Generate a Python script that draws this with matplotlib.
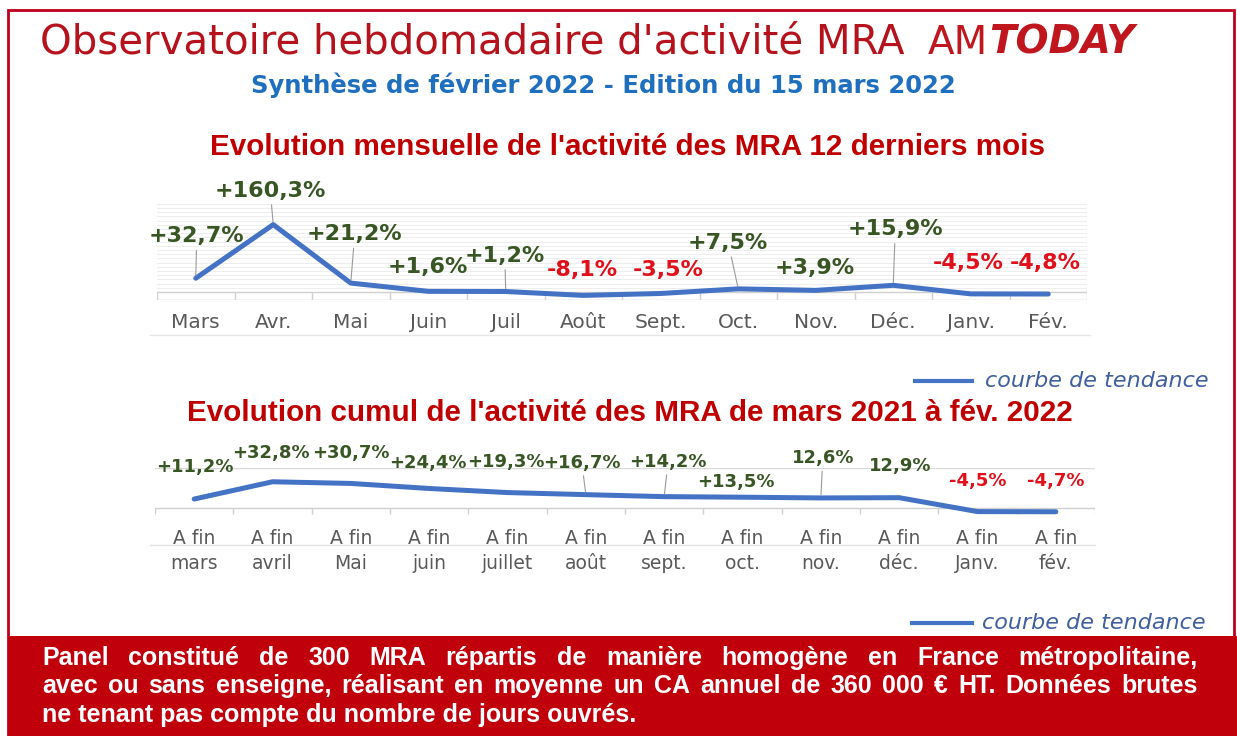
import matplotlib
matplotlib.use('Agg')
import matplotlib.pyplot as plt
from matplotlib.lines import Line2D
from matplotlib.patches import Rectangle
import numpy as np

# données
mois = ['Mars', 'Avr.', 'Mai', 'Juin', 'Juil', 'Août', 'Sept.', 'Oct.', 'Nov.', 'Déc.', 'Janv.', 'Fév.']
evol_mensuelle = [32.7, 160.3, 21.2, 1.6, 1.2, -8.1, -3.5, 7.5, 3.9, 15.9, -4.5, -4.8]

mois_cumul = ['A fin\nmars', 'A fin\navril', 'A fin\nMai', 'A fin\njuin', 'A fin\njuillet', 'A fin\naoût',
              'A fin\nsept.', 'A fin\noct.', 'A fin\nnov.', 'A fin\ndéc.', 'A fin\nJanv.', 'A fin\nfév.']
evol_cumul = [11.2, 32.8, 30.7, 24.4, 19.3, 16.7, 14.2, 13.5, 12.6, 12.9, -4.5, -4.7]
labels_cumul = ['+11,2%', '+32,8%', '+30,7%', '+24,4%', '+19,3%', '+16,7%', '+14,2%', '+13,5%',
                '12,6%', '12,9%', '-4,5%', '-4,7%']

# position des étiquettes (décalage en pixels) et traits de rappel
decal_mens = [(1, 42), (-3, 34), (4, 49), (0, 24), (-1, 36), (-1, 25), (7, 23), (-10, 46), (-1, 22), (2, 56), (-3, 31), (-3, 31)]
rappel_mens = [0, 1, 2, 4, 7, 9]
decal_cumul = [(1, 32), (-2, 29), (0, 30), (-1, 25), (-2, 31), (-4, 32), (4, 35), (-7, 15), (2, 40), (1, 32), (0, 31), (0, 31)]
rappel_cumul = [5, 6, 8]

W, H = 1237, 736
ROUGE = '#c00000'
VERT = '#375623'
ROUGE_VAL = '#e0101a'
BLEU = '#4472c4'
GRIS = '#595959'


def px(x):
    return x / W


def py(y):
    return 1 - y / H


fig = plt.figure(figsize=(W / 100, H / 100), dpi=100)
fig.patch.set_facecolor('white')
rend = fig.canvas.get_renderer()

# cadre rouge + bandeau du bas
fig.patches.append(Rectangle((px(8), py(736)), px(1234) - px(8), py(10) - py(736),
                             transform=fig.transFigure, fill=False, ec='#c0001a', lw=2))
fig.patches.append(Rectangle((px(8), py(736)), 1 - px(8), py(636) - py(736),
                             transform=fig.transFigure, fc='#c0000a', ec='none'))

# titres
fig.text(px(40), py(54), "Observatoire hebdomadaire d'activité MRA", fontsize=29,
         color='#b5121b', family='DejaVu Sans', va='baseline')
am = fig.text(px(928), py(54), 'AM', fontsize=28, color='#c0161e', family='DejaVu Sans', va='baseline')
x_today = 928 + am.get_window_extent(rend).width + 1
fig.text(px(x_today), py(54), 'TODAY', fontsize=28, color='#c0161e', family='DejaVu Sans',
         weight='bold', style='italic', va='baseline')
fig.text(px(603), py(85), 'Synthèse de février 2022 - Edition du 15 mars 2022', fontsize=17.5,
         color='#1e6fbe', weight='bold', ha='center', va='center')
fig.text(px(627), py(147), "Evolution mensuelle de l'activité des MRA 12 derniers mois", fontsize=21.3,
         color=ROUGE, weight='bold', family='Liberation Sans', ha='center', va='center')
fig.text(px(630), py(413), "Evolution cumul de l'activité des MRA de mars 2021 à fév. 2022", fontsize=21.3,
         color=ROUGE, weight='bold', family='Liberation Sans', ha='center', va='center')


def couleur(v):
    return VERT if v >= 0 else ROUGE_VAL


def axe_cat(ax, bas):
    for s in ax.spines.values():
        s.set_visible(False)
    ax.set_xlim(-0.5, 11.5)
    ax.axhline(0, color='#d0d0d0', lw=1, zorder=1)
    ax.vlines(np.arange(-0.5, 12), bas, 0, color='#d0d0d0', lw=1, zorder=1)
    ax.set_yticks([])
    ax.tick_params(axis='x', length=0, colors=GRIS)


# graphique 1 : évolution mensuelle
ax1 = fig.add_axes([px(157), py(300), px(1087) - px(157), py(202) - py(300)])
ax1.set_ylim(-19, 214)
for g in range(10, 211, 10):
    ax1.axhline(g, color='#eeeeee', lw=0.8, zorder=0)
axe_cat(ax1, -19)
ax1.axhline(-19, color='#d0d0d0', lw=1, zorder=1)
x1 = np.arange(len(mois))
ax1.plot(x1, evol_mensuelle, color=BLEU, lw=3.6, solid_capstyle='round', zorder=3)
ax1.set_xticks(x1, mois, fontsize=14.5, family='DejaVu Sans')
ax1.tick_params(axis='x', pad=9.5)
for i, v in enumerate(evol_mensuelle):
    txt = f'{v:+.1f}%'.replace('.', ',')
    flech = dict(arrowstyle='-', color='#9a9a9a', lw=0.8, shrinkA=1, shrinkB=2) if i in rappel_mens else None
    ax1.annotate(txt, xy=(i, v), xytext=decal_mens[i], textcoords='offset pixels', ha='center',
                 va='center', fontsize=16, weight='bold', color=couleur(v), arrowprops=flech, zorder=4)

# graphique 2 : cumul
ax2 = fig.add_axes([px(155), py(516), px(1095) - px(155), py(468) - py(516)])
ax2.set_ylim(-10, 50)
ax2.axhline(50, color='#d9d9d9', lw=1, zorder=0)
axe_cat(ax2, -8)
x2 = np.arange(len(mois_cumul))
ax2.plot(x2, evol_cumul, color=BLEU, lw=3.6, solid_capstyle='round', zorder=3)
ax2.set_xticks(x2, mois_cumul, fontsize=13.5, family='DejaVu Sans', linespacing=1.45)
ax2.tick_params(axis='x', pad=9)
for i, v in enumerate(evol_cumul):
    flech = dict(arrowstyle='-', color='#9a9a9a', lw=0.8, shrinkA=1, shrinkB=2) if i in rappel_cumul else None
    ax2.annotate(labels_cumul[i], xy=(i, v), xytext=decal_cumul[i], textcoords='offset pixels', ha='center',
                 va='center', fontsize=13, weight='bold', color=couleur(v), arrowprops=flech, zorder=4)

# traits clairs sous les étiquettes
fig.lines.append(Line2D([px(150), px(1090)], [py(335), py(335)], transform=fig.transFigure, color='#e6e6e6', lw=1))
fig.lines.append(Line2D([px(150), px(1095)], [py(545), py(545)], transform=fig.transFigure, color='#e0e0e0', lw=1))

# légendes
for (xa, xb, xt, y) in [(915, 972, 985, 381), (912, 972, 982, 623)]:
    fig.lines.append(Line2D([px(xa), px(xb)], [py(y), py(y)], transform=fig.transFigure, color=BLEU, lw=3))
    fig.text(px(xt), py(y), 'courbe de tendance', fontsize=16, style='italic', color='#3f5f9f',
             family='DejaVu Sans', va='center')

# texte du bandeau, justifié
lignes = ['Panel constitué de 300 MRA répartis de manière homogène en France métropolitaine,',
          'avec ou sans enseigne, réalisant en moyenne un CA annuel de 360 000 € HT. Données brutes']
for ligne, yb in zip(lignes, [665, 693]):
    mots = ligne.split()
    objs = [fig.text(0, py(yb), m, fontsize=18, weight='bold', color='white', family='Liberation Sans',
                     va='baseline') for m in mots]
    larg = [o.get_window_extent(rend).width for o in objs]
    ecart = (1198 - 42 - sum(larg)) / (len(mots) - 1)
    xc = 42
    for o, w in zip(objs, larg):
        o.set_x(px(xc))
        xc += w + ecart
fig.text(px(42), py(722), 'ne tenant pas compte du nombre de jours ouvrés.', fontsize=18, weight='bold',
         color='white', family='Liberation Sans', va='baseline')

fig.savefig('out.png', dpi=100)
